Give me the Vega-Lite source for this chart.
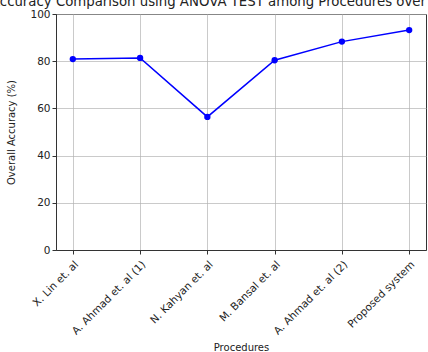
{
  "$schema": "https://vega.github.io/schema/vega-lite/v6.json",
  "width": 370,
  "height": 236,
  "autosize": "none",
  "padding": {"left": 56, "top": 14, "right": 2, "bottom": 102},
  "background": "white",
  "title": {
    "text": "Accuracy Comparison using ANOVA TEST among Procedures over",
    "anchor": "start",
    "dx": -16,
    "offset": 1,
    "font": "DejaVu Sans",
    "fontSize": 13.3,
    "fontWeight": "normal",
    "color": "#222222"
  },
  "config": {
    "font": "DejaVu Sans",
    "view": {"stroke": "#333333", "strokeWidth": 1},
    "axis": {
      "grid": true,
      "gridColor": "#b0b0b0",
      "gridOpacity": 0.85,
      "gridWidth": 0.8,
      "domainColor": "#333333",
      "tickColor": "#333333",
      "tickSize": 4,
      "labelFont": "DejaVu Sans",
      "labelFontSize": 10.5,
      "labelColor": "#222222",
      "titleFont": "DejaVu Sans",
      "titleFontSize": 10,
      "titleFontWeight": "normal",
      "titleColor": "#222222"
    }
  },
  "data": {
    "values": [
      {"procedure": "X. Lin et. al", "accuracy": 80.9},
      {"procedure": "A. Ahmad et. al (1)", "accuracy": 81.4},
      {"procedure": "N. Kahyan et. al", "accuracy": 56.4},
      {"procedure": "M. Bansal et. al", "accuracy": 80.4},
      {"procedure": "A. Ahmad et. al (2)", "accuracy": 88.3},
      {"procedure": "Proposed system", "accuracy": 93.2}
    ]
  },
  "encoding": {
    "x": {
      "field": "procedure",
      "type": "nominal",
      "sort": null,
      "scale": {"type": "point", "padding": 0.25},
      "axis": {
        "title": "Procedures",
        "grid": true,
        "labelAngle": -45,
        "labelAlign": "right",
        "labelBaseline": "top",
        "labelPadding": 5,
        "titlePadding": 6
      }
    },
    "y": {
      "field": "accuracy",
      "type": "quantitative",
      "scale": {"domain": [0, 100], "nice": false},
      "axis": {
        "title": "Overall Accuracy (%)",
        "values": [0, 20, 40, 60, 80, 100],
        "titlePadding": 13
      }
    }
  },
  "layer": [
    {"mark": {"type": "line", "color": "#0000ff", "strokeWidth": 1.5}},
    {"mark": {"type": "point", "filled": true, "color": "#0000ff", "opacity": 1, "size": 40}}
  ]
}
